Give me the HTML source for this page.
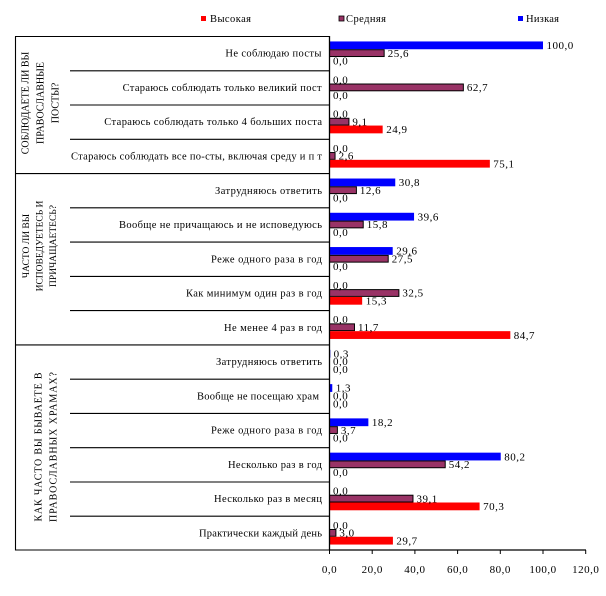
<!DOCTYPE html>
<html><head><meta charset="utf-8"><style>
html,body{margin:0;padding:0;background:#fff;}
svg{display:block;}
text{font-family:"Liberation Serif","DejaVu Serif",serif;fill:#000;}
.v{font-size:11px;letter-spacing:0.5px;}
.c{font-size:10.5px;}
.g{font-size:10px;}
</style></head><body>
<svg width="606" height="596" viewBox="0 0 606 596" xmlns="http://www.w3.org/2000/svg">
<rect x="0" y="0" width="606" height="596" fill="#fff"/>
<!-- legend -->
<rect x="201" y="16" width="5" height="5" fill="#ff0000"/>
<text class="c" x="210" y="22" textLength="41" lengthAdjust="spacing">Высокая</text>
<rect x="339" y="16" width="5" height="5" fill="#993366" stroke="#000" stroke-width="0.8"/>
<text class="c" x="346" y="22" textLength="40" lengthAdjust="spacing">Средняя</text>
<rect x="518" y="16" width="5" height="5" fill="#0000ff"/>
<text class="c" x="526" y="22" textLength="33" lengthAdjust="spacing">Низкая</text>

<!-- frame lines -->
<g stroke="#000" stroke-width="1.1">
<line x1="15.5" y1="36.5" x2="15.5" y2="550.5"/>
<line x1="15" y1="36.5" x2="330" y2="36.5"/>
<line x1="70" y1="70.8" x2="330" y2="70.8"/>
<line x1="70" y1="105" x2="330" y2="105"/>
<line x1="70" y1="139.3" x2="330" y2="139.3"/>
<line x1="15" y1="173.6" x2="330" y2="173.6"/>
<line x1="70" y1="207.8" x2="330" y2="207.8"/>
<line x1="70" y1="242.1" x2="330" y2="242.1"/>
<line x1="70" y1="276.4" x2="330" y2="276.4"/>
<line x1="70" y1="310.6" x2="330" y2="310.6"/>
<line x1="15" y1="344.9" x2="330" y2="344.9"/>
<line x1="70" y1="379.2" x2="330" y2="379.2"/>
<line x1="70" y1="413.4" x2="330" y2="413.4"/>
<line x1="70" y1="447.7" x2="330" y2="447.7"/>
<line x1="70" y1="482" x2="330" y2="482"/>
<line x1="70" y1="516.2" x2="330" y2="516.2"/>
<line x1="15" y1="550" x2="330" y2="550"/>
</g>

<!-- group labels -->
<g class="g">
<text transform="translate(28.5,103) rotate(-90)" text-anchor="middle">СОБЛЮДАЕТЕ ЛИ ВЫ</text>
<text transform="translate(43.5,103) rotate(-90)" text-anchor="middle">ПРАВОСЛАВНЫЕ</text>
<text transform="translate(58.5,103) rotate(-90)" text-anchor="middle">ПОСТЫ?</text>
</g>
<g style="font-size:9.5px">
<text transform="translate(29,246) rotate(-90)" text-anchor="middle">ЧАСТО ЛИ ВЫ</text>
<text transform="translate(42.5,246) rotate(-90)" text-anchor="middle">ИСПОВЕДУЕТЕСЬ И</text>
<text transform="translate(56,246) rotate(-90)" text-anchor="middle">ПРИЧАЩАЕТЕСЬ?</text>
</g>
<g class="g">
<text transform="translate(41.5,447) rotate(-90)" text-anchor="middle" textLength="149" lengthAdjust="spacing">КАК ЧАСТО ВЫ БЫВАЕТЕ В</text>
<text transform="translate(56.5,447) rotate(-90)" text-anchor="middle" textLength="150" lengthAdjust="spacing">ПРАВОСЛАВНЫХ ХРАМАХ?</text>
</g>

<!-- category labels -->
<g class="c">
<text x="225.4" y="56.7" textLength="96" lengthAdjust="spacing">Не соблюдаю посты</text>
<text x="122.6" y="91" textLength="199" lengthAdjust="spacing">Стараюсь соблюдать только великий пост</text>
<text x="104.3" y="125.2" textLength="217.7" lengthAdjust="spacing">Стараюсь соблюдать только 4 больших поста</text>
<text x="71" y="159.5" textLength="251" lengthAdjust="spacing">Стараюсь соблюдать все по-сты, включая среду и п т</text>
<text x="215" y="193.8" textLength="107" lengthAdjust="spacing">Затрудняюсь ответить</text>
<text x="119" y="228" textLength="203" lengthAdjust="spacing">Вообще не причащаюсь и не исповедуюсь</text>
<text x="211" y="262.3" textLength="111" lengthAdjust="spacing">Реже одного раза в год</text>
<text x="186" y="296.6" textLength="136" lengthAdjust="spacing">Как минимум один раз в год</text>
<text x="224" y="330.8" textLength="98" lengthAdjust="spacing">Не менее 4 раз в год</text>
<text x="216" y="365.1" textLength="106" lengthAdjust="spacing">Затрудняюсь ответить</text>
<text x="197" y="399.4" textLength="122" lengthAdjust="spacing">Вообще не посещаю храм</text>
<text x="211" y="433.6" textLength="111" lengthAdjust="spacing">Реже одного раза в год</text>
<text x="228" y="467.9" textLength="94" lengthAdjust="spacing">Несколько раз в год</text>
<text x="214" y="502.2" textLength="108" lengthAdjust="spacing">Несколько раз в месяц</text>
<text x="199" y="536.4" textLength="123" lengthAdjust="spacing">Практически каждый день</text>
</g>

<!-- bars: blue -->
<g fill="#0000ff">
<rect x="329.5" y="41.45" width="213.5" height="7.79"/>
<rect x="329.5" y="178.52" width="65.76" height="7.79"/>
<rect x="329.5" y="212.78" width="84.55" height="7.79"/>
<rect x="329.5" y="247.05" width="63.2" height="7.79"/>
<rect x="329.5" y="349.85" width="0.8" height="7.79"/>
<rect x="329.5" y="384.12" width="2.78" height="7.79"/>
<rect x="329.5" y="418.38" width="38.86" height="7.79"/>
<rect x="329.5" y="452.65" width="171.23" height="7.79"/>
</g>
<!-- bars: purple -->
<g fill="#993366" stroke="#000" stroke-width="1">
<rect x="329.5" y="49.74" width="54.66" height="6.79"/>
<rect x="329.5" y="84.01" width="133.86" height="6.79"/>
<rect x="329.5" y="118.27" width="19.43" height="6.79"/>
<rect x="329.5" y="152.54" width="5.55" height="6.79"/>
<rect x="329.5" y="186.81" width="26.9" height="6.79"/>
<rect x="329.5" y="221.07" width="33.73" height="6.79"/>
<rect x="329.5" y="255.34" width="58.71" height="6.79"/>
<rect x="329.5" y="289.61" width="69.39" height="6.79"/>
<rect x="329.5" y="323.87" width="24.98" height="6.79"/>
<rect x="329.5" y="426.67" width="7.9" height="6.79"/>
<rect x="329.5" y="460.94" width="115.72" height="6.79"/>
<rect x="329.5" y="495.21" width="83.48" height="6.79"/>
<rect x="329.5" y="529.47" width="6.41" height="6.79"/>
</g>
<!-- bars: red -->
<g fill="#ff0000">
<rect x="329.5" y="125.56" width="53.16" height="7.79"/>
<rect x="329.5" y="159.83" width="160.34" height="7.79"/>
<rect x="329.5" y="296.9" width="32.67" height="7.79"/>
<rect x="329.5" y="331.16" width="180.83" height="7.79"/>
<rect x="329.5" y="502.5" width="150.09" height="7.79"/>
<rect x="329.5" y="536.76" width="63.41" height="7.79"/>
</g>

<!-- axes -->
<g stroke="#000" stroke-width="1.3">
<line x1="329.5" y1="36" x2="329.5" y2="550.5"/>
<line x1="329" y1="550" x2="586" y2="550"/>
</g>
<g stroke="#000" stroke-width="1">
<line x1="329.5" y1="550" x2="329.5" y2="554"/>
<line x1="372.2" y1="550" x2="372.2" y2="554"/>
<line x1="414.9" y1="550" x2="414.9" y2="554"/>
<line x1="457.6" y1="550" x2="457.6" y2="554"/>
<line x1="500.3" y1="550" x2="500.3" y2="554"/>
<line x1="543" y1="550" x2="543" y2="554"/>
<line x1="585.7" y1="550" x2="585.7" y2="554"/>
</g>
<g class="v" text-anchor="middle">
<text x="329.5" y="573">0,0</text>
<text x="372.2" y="573">20,0</text>
<text x="414.9" y="573">40,0</text>
<text x="457.6" y="573">60,0</text>
<text x="500.3" y="573">80,0</text>
<text x="543" y="573">100,0</text>
<text x="585.7" y="573">120,0</text>
</g>

<!-- value labels -->
<g class="v">
<text x="546.5" y="49.05">100,0</text>
<text x="387.7" y="56.83">25,6</text>
<text x="333" y="64.62">0,0</text>
<text x="333" y="83.32">0,0</text>
<text x="466.9" y="91.1">62,7</text>
<text x="333" y="98.89">0,0</text>
<text x="333" y="117.58">0,0</text>
<text x="352.4" y="125.36">9,1</text>
<text x="386.2" y="133.15">24,9</text>
<text x="333" y="151.85">0,0</text>
<text x="338.6" y="159.63">2,6</text>
<text x="493.3" y="167.42">75,1</text>
<text x="398.8" y="186.12">30,8</text>
<text x="359.9" y="193.9">12,6</text>
<text x="333" y="201.69">0,0</text>
<text x="417.6" y="220.38">39,6</text>
<text x="366.7" y="228.16">15,8</text>
<text x="333" y="235.95">0,0</text>
<text x="396.2" y="254.65">29,6</text>
<text x="391.7" y="262.43">27,5</text>
<text x="333" y="270.22">0,0</text>
<text x="333" y="288.92">0,0</text>
<text x="402.4" y="296.7">32,5</text>
<text x="365.7" y="304.49">15,3</text>
<text x="333" y="323.18">0,0</text>
<text x="358" y="330.96">11,7</text>
<text x="513.8" y="338.75">84,7</text>
<text x="333.6" y="357.45">0,3</text>
<text x="333" y="365.23">0,0</text>
<text x="333" y="373.02">0,0</text>
<text x="335.8" y="391.72">1,3</text>
<text x="333" y="399.5">0,0</text>
<text x="333" y="407.29">0,0</text>
<text x="371.9" y="425.98">18,2</text>
<text x="340.9" y="433.76">3,7</text>
<text x="333" y="441.55">0,0</text>
<text x="504.2" y="460.25">80,2</text>
<text x="448.7" y="468.03">54,2</text>
<text x="333" y="475.82">0,0</text>
<text x="333" y="494.52">0,0</text>
<text x="416.5" y="502.3">39,1</text>
<text x="483.1" y="510.09">70,3</text>
<text x="333" y="528.78">0,0</text>
<text x="339.4" y="536.56">3,0</text>
<text x="396.4" y="544.35">29,7</text>
</g>
</svg>
</body></html>
